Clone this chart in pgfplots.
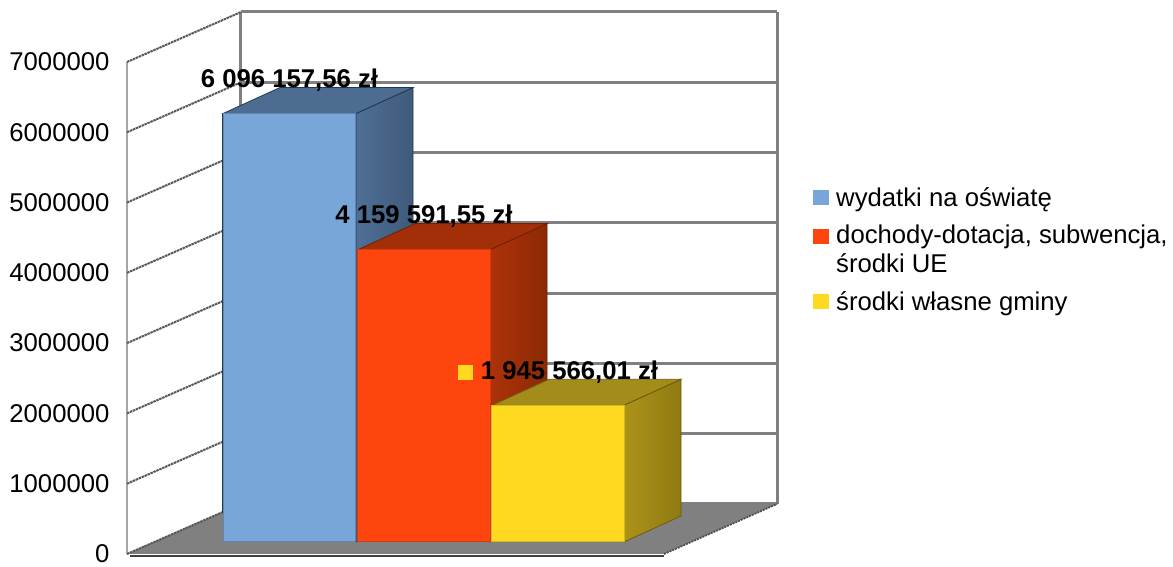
\documentclass[border=0pt]{standalone}
\usepackage{fontspec}
\setmainfont{Liberation Sans}
\usepackage{pgfplots}
\pgfplotsset{compat=1.18}

\definecolor{gridgray}{HTML}{808080}
\definecolor{bluefront}{HTML}{78A6D8}
\definecolor{blueedge}{HTML}{5F87B4}
\definecolor{bluetop}{HTML}{4C6C92}
\definecolor{blueside1}{HTML}{4F6F96}
\definecolor{blueside2}{HTML}{3F5A7A}
\definecolor{bluedark}{HTML}{22384F}
\definecolor{redfront}{HTML}{FF450E}
\definecolor{rededge}{HTML}{D23C0E}
\definecolor{redtop}{HTML}{A32F08}
\definecolor{redside1}{HTML}{AD3209}
\definecolor{redside2}{HTML}{8C2A05}
\definecolor{reddark}{HTML}{6E2004}
\definecolor{yelfront}{HTML}{FFD91F}
\definecolor{yeledge}{HTML}{D9B81C}
\definecolor{yeltop}{HTML}{A38C1A}
\definecolor{yelside1}{HTML}{AC9319}
\definecolor{yelside2}{HTML}{8F7A12}
\definecolor{yeldark}{HTML}{6B5B0C}

\newcommand{\labelfont}{\fontsize{25.7}{29.5}\selectfont}

\pgfplotsset{
    barbase/.style={ybar, bar width=132.5pt, bar shift=0pt, yshift=12pt, line width=1pt},
    legsquare/.style={legend image code/.code={
        \fill[##1,draw=none,overlay] (-23pt,#1) rectangle (-7.5pt,\dimexpr#1+15.5pt\relax);}},
    face/.style={forget plot, yshift=12pt, line width=0.8pt},
}

\begin{document}
\begin{tikzpicture}[x=1pt,y=1pt]
\path[use as bounding box] (-127pt,-13pt) rectangle (1046pt,554pt);
\begin{axis}[
    scale only axis,
    width=650pt,
    height=492pt,
    xmin=127, xmax=777,
    ymin=0, ymax=7000000,
    clip=false,
    axis x line=none,
    axis y line=left,
    y axis line style={-, draw=gridgray!70, line width=1.5pt},
    xtick=\empty,
    ytick={0,1000000,2000000,3000000,4000000,5000000,6000000,7000000},
    scaled y ticks=false,
    major tick length=0pt,
    tick label style={font=\labelfont},
    yticklabel style={/pgf/number format/fixed, /pgf/number format/1000 sep={},
        /pgf/number format/assume math mode=true, xshift=-14pt},
    every node near coord/.append style={font=\labelfont\bfseries,
        anchor=center, yshift=33pt, text=black, inner sep=0pt},
    legend style={at={(1.0908,0.746)}, anchor=north west, draw=none, fill=none,
        font=\labelfont, row sep=17pt, inner sep=0pt,
        nodes={align=left, inner sep=0pt}},
    legend cell align=left,
]
% back wall
\pgfplotsinvokeforeach{0,...,7}{
    \addplot[forget plot, draw=gridgray, line width=3pt, yshift=50pt]
        coordinates {(241,#1000000) (777,#1000000)};
}
\addplot[forget plot, draw=gridgray, line width=3pt, yshift=50pt]
    coordinates {(241,0) (241,7000000)};
\addplot[forget plot, draw=gridgray, line width=3pt, yshift=50pt]
    coordinates {(777,0) (777,7000000)};
% floor
\addplot[forget plot, fill=gridgray, draw=none]
    coordinates {(127,0) (664,0) (777,711382) (241,711382)} -- cycle;
\addplot[forget plot, draw=black!75, line width=1.5pt, yshift=-2pt]
    coordinates {(130,0) (664,0)};
\addplot[forget plot, draw=gridgray!60!black, line width=1.8pt, dash pattern=on 2pt off 1pt]
    coordinates {(664,0) (777,711382)};
% left wall, front edge to back edge
\pgfplotsinvokeforeach{0,...,7}{
    \addplot[forget plot, draw=black!65, line width=2pt, dash pattern=on 2.5pt off 0.7pt]
        coordinates {(127,#1000000) (241,#1711382)};
}

% blue bar
\addplot[face, draw=bluedark, left color=blueside1, right color=blueside2]
    coordinates {(356,0) (413,369857) (413,6466014) (356,6096157)} -- cycle;
\addplot[face, draw=bluedark, fill=bluetop]
    coordinates {(223,6096157) (356,6096157) (413,6466014) (280,6466014)} -- cycle;
\addplot[face, draw=bluedark, line width=1.2pt]
    coordinates {(222.5,412000) (222.5,6096157)};
\addplot[barbase, legsquare=-20pt, fill=bluefront, draw=blueedge,
    nodes near coords={6 096 157,56 zł}] coordinates {(289.5,6096157.56)};
\addlegendentry{wydatki na oświatę}

% orange bar
\addplot[face, draw=reddark, left color=redside1, right color=redside2]
    coordinates {(490,0) (547,369857) (547,4529449) (490,4159592)} -- cycle;
\addplot[face, draw=reddark, fill=redtop]
    coordinates {(358,4159592) (490,4159592) (547,4529449) (415,4529449)} -- cycle;
\addplot[barbase, legsquare=-7pt, fill=redfront, draw=rededge,
    nodes near coords={4 159 591,55 zł}] coordinates {(424,4159591.55)};
\addlegendentry{dochody-dotacja, subwencja,\\środki UE}

% yellow bar
\addplot[face, draw=yeldark, left color=yelside1, right color=yelside2]
    coordinates {(624,0) (681,369857) (681,2315423) (624,1945566)} -- cycle;
\addplot[face, draw=yeldark, fill=yeltop]
    coordinates {(492,1945566) (624,1945566) (681,2315423) (549,2315423)} -- cycle;
\addplot[barbase, legsquare=-20pt, fill=yelfront, draw=yeledge,
    nodes near coords={\textcolor{yelfront}{\rule{15pt}{15pt}}\hspace{8pt}1 945 566,01 zł}]
    coordinates {(558,1945566.01)};
\addlegendentry{środki własne gminy}
\end{axis}
\end{tikzpicture}
\end{document}
